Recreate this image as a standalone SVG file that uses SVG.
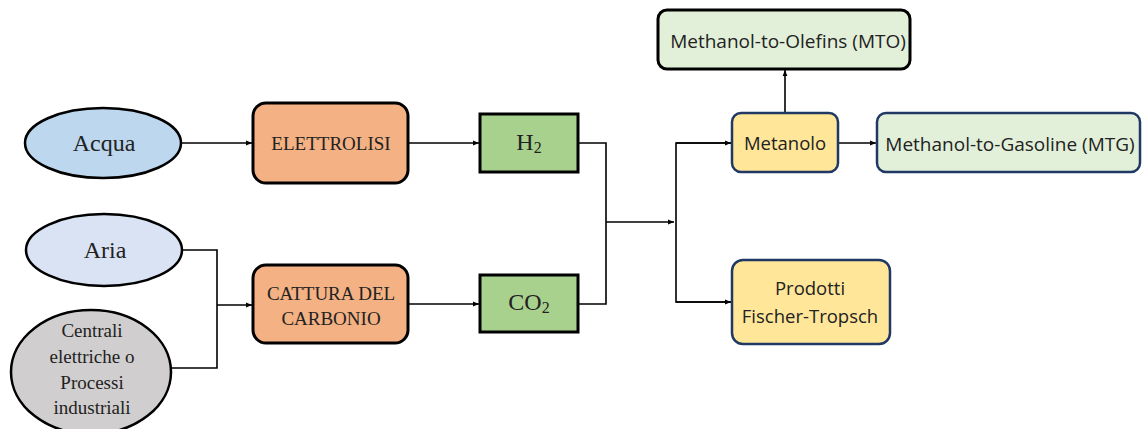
<svg xmlns="http://www.w3.org/2000/svg" width="1142" height="429" viewBox="0 0 1142 429">
<style>
.serif{font-family:"Liberation Serif","Times New Roman",serif;fill:#222;text-anchor:middle;dominant-baseline:central}
.sans{font-family:"Open Sans","Noto Sans",sans-serif;fill:#222;text-anchor:middle;dominant-baseline:central}
.ell{stroke:#000;stroke-width:2.5}
.orange{fill:#F4B183;stroke:#000;stroke-width:3}
.green{fill:#A9D18E;stroke:#000;stroke-width:3}
.navy{stroke:#1F3864;stroke-width:2.5}
.conn{fill:none;stroke:#000;stroke-width:1.6}
</style>
<defs>
<marker id="arr" viewBox="0 0 10 10" refX="10" refY="5" markerWidth="6" markerHeight="6" orient="auto" markerUnits="userSpaceOnUse">
<path d="M0,1 L10,5 L0,9 z" fill="#000"/>
</marker>
</defs>
<rect width="1142" height="429" fill="#fff"/>
<g id="connectors">
<path class="conn" d="M182,143 H252" marker-end="url(#arr)"/>
<path class="conn" d="M182,250 H217 V368 H171"/>
<path class="conn" d="M217,305 H252" marker-end="url(#arr)"/>
<path class="conn" d="M408,143 H479" marker-end="url(#arr)"/>
<path class="conn" d="M408,304 H479" marker-end="url(#arr)"/>
<path class="conn" d="M578,143 H606 V304 H578"/>
<path class="conn" d="M606,222 H674" marker-end="url(#arr)"/>
<path class="conn" d="M731,143 H676 V302 H731"/>
<path class="conn" d="M676,143 H731" marker-end="url(#arr)"/>
<path class="conn" d="M676,302 H731" marker-end="url(#arr)"/>
<path class="conn" d="M785,113 V70" marker-end="url(#arr)"/>
<path class="conn" d="M838,143 H876" marker-end="url(#arr)"/>
</g>
<g id="acqua">
<ellipse class="ell" cx="103" cy="143" rx="78" ry="35" fill="#BDD7EE"/>
<text class="serif" x="104" y="143" font-size="24">Acqua</text>
</g>
<g id="aria">
<ellipse class="ell" cx="104" cy="250" rx="78" ry="36" fill="#DAE3F3"/>
<text class="serif" x="105" y="250" font-size="24">Aria</text>
</g>
<g id="centrali">
<ellipse class="ell" cx="91" cy="372" rx="80" ry="62" fill="#D0CECE"/>
<text class="serif" x="92" y="330" font-size="19">Centrali</text>
<text class="serif" x="92" y="356" font-size="19">elettriche o</text>
<text class="serif" x="92" y="382" font-size="19">Processi</text>
<text class="serif" x="92" y="407" font-size="19">industriali</text>
</g>
<g id="elettrolisi">
<rect class="orange" x="253" y="103" width="155" height="80" rx="13"/>
<text class="serif" x="331" y="143" font-size="19">ELETTROLISI</text>
</g>
<g id="cattura">
<rect class="orange" x="253" y="265" width="155" height="78" rx="13"/>
<text class="serif" x="331" y="293" font-size="19">CATTURA DEL</text>
<text class="serif" x="331" y="318" font-size="19">CARBONIO</text>
</g>
<g id="h2">
<rect class="green" x="480" y="114" width="98" height="58"/>
<text class="serif" x="529" y="142" font-size="24">H<tspan font-size="16" dy="5">2</tspan></text>
</g>
<g id="co2">
<rect class="green" x="480" y="275" width="98" height="57"/>
<text class="serif" x="529" y="302" font-size="24">CO<tspan font-size="16" dy="5">2</tspan></text>
</g>
<g id="mto">
<rect x="658" y="10" width="252" height="59" rx="9" fill="#E2F0D9" stroke="#000" stroke-width="3"/>
<text class="sans" x="788" y="41" font-size="19">Methanol-to-Olefins (MTO)</text>
</g>
<g id="metanolo">
<rect class="navy" x="732" y="113" width="106" height="59" rx="9" fill="#FFE699"/>
<text class="sans" x="785" y="142" font-size="18.5">Metanolo</text>
</g>
<g id="mtg">
<rect class="navy" x="877" y="113" width="263" height="59" rx="9" fill="#E2F0D9"/>
<text class="sans" x="1010" y="144" font-size="19">Methanol-to-Gasoline (MTG)</text>
</g>
<g id="prodotti">
<rect class="navy" x="732" y="260" width="158" height="84" rx="11" fill="#FFE699"/>
<text class="sans" x="810" y="287" font-size="18.5">Prodotti</text>
<text class="sans" x="810" y="315" font-size="18.5">Fischer-Tropsch</text>
</g>
</svg>
